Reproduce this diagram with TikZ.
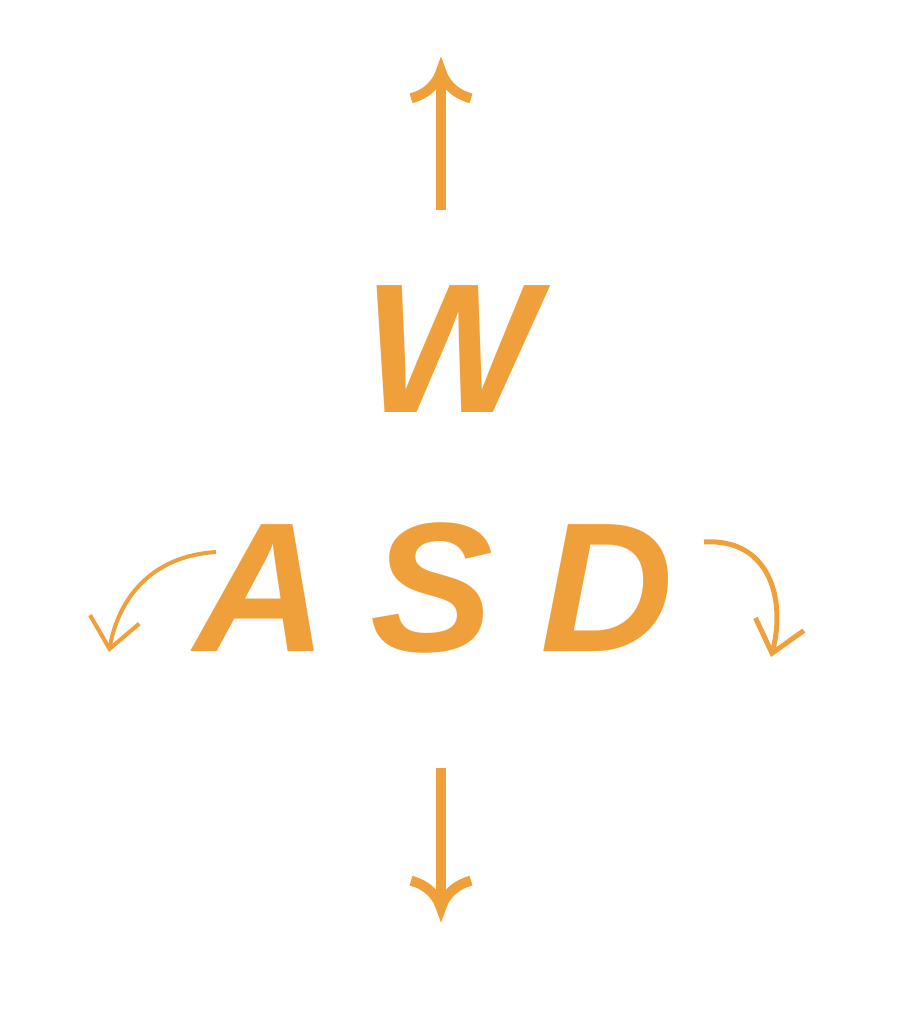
\documentclass[tikz,border=0pt]{standalone}
\usepackage{fontspec}
\setmainfont{Liberation Sans}
\usetikzlibrary{
    arrows.meta,
    positioning
}
\definecolor{keyorange}{RGB}{240,160,58}
\tikzset{
    % --- Big key letter ---
    key/.style = {
        text=keyorange, inner sep=0pt, anchor=base,
        font=\fontsize{105}{105}\selectfont\bfseries\itshape
    },
    % --- Straight move arrow (forward / back) ---
    move arrow/.style = {
        draw=keyorange, line width=2mm,
        -{Computer Modern Rightarrow[sharp, length=7.5mm, width=14mm]}
    },
    % --- Curved turn arrow (left / right) ---
    turn arrow/.style = {
        draw=keyorange, line width=1mm,
        -{Straight Barb[length=6mm, width=10mm]}
    }
}

\begin{document}
\begin{tikzpicture}[x=0.02cm, y=-0.02cm]

\useasboundingbox (0,0) rectangle (912,1014);

% ---------------------------------------------------------
% Keys
% ---------------------------------------------------------
\node[key] (W) at (451,412) {W};
\node[key] (A) at (261,651) {A};
\node[key] (S) at (432,651) {S};
\node[key] (D) at (607,651) {D};

% ---------------------------------------------------------
% Arrow ends
% ---------------------------------------------------------
\coordinate (upStart) at (441,210);
\coordinate (upEnd) at (441,54);
\coordinate (downStart) at (441,768);
\coordinate (downEnd) at (441,925);
\coordinate (leftStart) at (216,552);
\coordinate (leftEnd) at (109,652);
\coordinate (rightStart) at (704,542);
\coordinate (rightEnd) at (771,657);

% ---------------------------------------------------------
% Arrows
% ---------------------------------------------------------
\draw[move arrow] (upStart) -- (upEnd);
\draw[move arrow] (downStart) -- (downEnd);
\draw[turn arrow, line width=0.8mm] (leftStart) .. controls (150,556) and (118,600) .. (leftEnd);
\draw[turn arrow] (rightStart) .. controls (770,538) and (786,600) .. (rightEnd);

\end{tikzpicture}
\end{document}
